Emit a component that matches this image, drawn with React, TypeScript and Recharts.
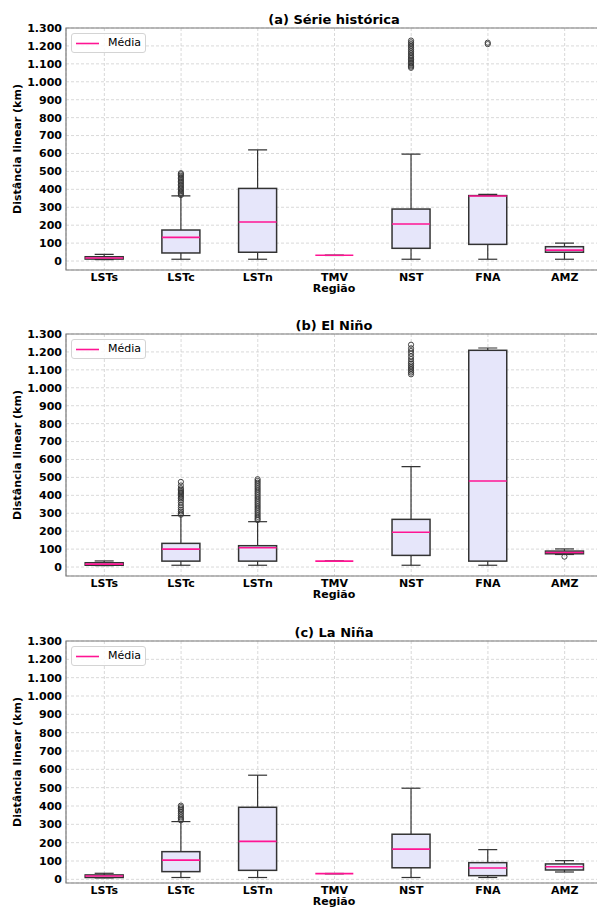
import React from 'react';
import { ComposedChart, Bar, XAxis, YAxis, CartesianGrid, ReferenceArea, Legend } from 'recharts';

const categories = ['LSTs', 'LSTc', 'LSTn', 'TMV', 'NST', 'FNA', 'AMZ'];
const yTicks = [0, 100, 200, 300, 400, 500, 600, 700, 800, 900, 1000, 1100, 1200, 1300];

// (a) Série histórica
const histWhiskerLow = [8, 10, 10, 31, 10, 10, 10];
const histQ1 = [11, 45, 49, 32, 71, 93, 49];
const histMedian = [17, 132, 218, 32, 207, 363, 61];
const histQ3 = [24, 173, 405, 32, 290, 365, 80];
const histWhiskerHigh = [37, 363, 620, 33, 596, 372, 100];
const histOutliers: number[][] = [
  [],
  [368, 375, 382, 390, 398, 405, 412, 420, 428, 436, 444, 452, 460, 468, 476, 484, 490],
  [],
  [],
  [1078, 1085, 1092, 1100, 1108, 1116, 1124, 1132, 1140, 1150, 1160, 1170, 1180, 1190, 1200, 1210, 1220, 1230],
  [1210, 1218],
  [],
];

// (b) El Niño
const ninoWhiskerLow = [8, 10, 10, 32, 10, 10, 70];
const ninoQ1 = [10, 33, 33, 33, 65, 33, 74];
const ninoMedian = [16, 100, 108, 33, 194, 480, 81];
const ninoQ3 = [24, 132, 119, 33, 266, 1209, 89];
const ninoWhiskerHigh = [34, 287, 253, 34, 560, 1222, 101];
const ninoOutliers: number[][] = [
  [],
  [292, 300, 310, 320, 332, 345, 360, 372, 382, 390, 398, 405, 412, 418, 425, 432, 440, 455, 475],
  [262, 270, 280, 290, 300, 310, 320, 330, 340, 350, 360, 370, 380, 390, 400, 410, 420, 430, 440, 450, 460, 470, 480, 490],
  [],
  [1075, 1085, 1095, 1105, 1115, 1125, 1135, 1145, 1160, 1175, 1190, 1205, 1220, 1240],
  [],
  [58],
];

// (c) La Niña
const ninaWhiskerLow = [8, 10, 10, 30, 10, 10, 40];
const ninaQ1 = [10, 42, 49, 31, 63, 20, 51];
const ninaMedian = [18, 105, 207, 31, 165, 62, 69];
const ninaQ3 = [24, 151, 393, 31, 246, 91, 84];
const ninaWhiskerHigh = [33, 315, 568, 32, 497, 162, 102];
const ninaOutliers: number[][] = [
  [],
  [322, 330, 338, 348, 358, 368, 378, 386, 394, 402],
  [],
  [],
  [],
  [],
  [],
];

const FONT = 'DejaVu Sans';
const BOX_FILL = '#E6E6FA';
const BOX_STROKE = '#333333';
const MEDIAN = '#FF1493';

function buildRows(wlo: number[], q1: number[], med: number[], q3: number[], whi: number[], out: number[][]) {
  return categories.map((name, i) => ({
    name,
    range: [wlo[i], whi[i]],
    whiskerLow: wlo[i],
    q1: q1[i],
    median: med[i],
    q3: q3[i],
    whiskerHigh: whi[i],
    outliers: out[i],
  }));
}

function BoxShape(props: any) {
  const { x, y, width, height, payload } = props;
  if (!payload || x == null || y == null || height == null) return null;
  const top = Math.min(y, y + height);
  const bot = Math.max(y, y + height);
  const lo = payload.whiskerLow;
  const hi = payload.whiskerHigh;
  const k = (bot - top) / (hi - lo);
  const py = (v: number) => bot - (v - lo) * k;
  const cx = x + width / 2;
  const capHalf = width / 4;
  const yQ1 = py(payload.q1);
  const yQ3 = py(payload.q3);
  const yMed = py(payload.median);
  const yLo = py(lo);
  const yHi = py(hi);
  return (
    <g>
      <line x1={cx} x2={cx} y1={yQ3} y2={yHi} stroke={BOX_STROKE} strokeWidth={1.2} />
      <line x1={cx} x2={cx} y1={yQ1} y2={yLo} stroke={BOX_STROKE} strokeWidth={1.2} />
      <line x1={cx - capHalf} x2={cx + capHalf} y1={yHi} y2={yHi} stroke={BOX_STROKE} strokeWidth={1.2} />
      <line x1={cx - capHalf} x2={cx + capHalf} y1={yLo} y2={yLo} stroke={BOX_STROKE} strokeWidth={1.2} />
      <rect x={x} y={yQ3} width={width} height={Math.max(0, yQ1 - yQ3)} fill={BOX_FILL} stroke={BOX_STROKE} strokeWidth={1.5} />
      <line x1={x} x2={x + width} y1={yMed} y2={yMed} stroke={MEDIAN} strokeWidth={1.6} />
      {payload.outliers.map((v: number, j: number) => (
        <circle key={j} cx={cx} cy={py(v)} r={2.6} fill="none" stroke={BOX_STROKE} strokeWidth={0.9} />
      ))}
    </g>
  );
}

const renderLegend = () => (
  <div
    style={{
      boxSizing: 'border-box',
      width: 75,
      height: 20,
      border: '1px solid #d4d4d4',
      borderRadius: 3,
      background: 'rgba(255,255,255,0.85)',
      position: 'relative',
      fontFamily: FONT,
      fontSize: 11,
      color: '#000',
    }}
  >
    <svg style={{ position: 'absolute', left: 4, top: 8 }} width={24} height={3}>
      <line x1={0} y1={1.5} x2={23} y2={1.5} stroke={MEDIAN} strokeWidth={1.6} />
    </svg>
    <span style={{ position: 'absolute', left: 36, top: 2, lineHeight: '13px', whiteSpace: 'nowrap' }}>Média</span>
  </div>
);

const fmt = (v: number) => String(v).replace(/\B(?=(\d{3})+(?!\d))/g, '.');

const tickStyle = { fontFamily: FONT, fontSize: 11, fontWeight: 'bold' as const, fill: '#000' };

function Panel(props: { top: number; title: string; rows: any[]; yMin: number }) {
  const { top, title, rows, yMin } = props;
  const plotTop = 28;
  const plotH = 242;
  return (
    <div style={{ position: 'absolute', left: 0, top, width: 603, height: 300 }}>
      <ComposedChart
        width={603}
        height={300}
        data={rows}
        margin={{ top: plotTop, right: 0, bottom: 0, left: 0 }}
        barCategoryGap="25%"
      >
        <CartesianGrid strokeDasharray="3 2" stroke="#cfcfcf" strokeWidth={0.8} />
        <XAxis
          dataKey="name"
          height={30}
          interval={0}
          tickSize={0}
          tickMargin={3}
          axisLine={false}
          tickLine={false}
          tick={tickStyle}
        />
        <YAxis
          type="number"
          width={66}
          domain={[yMin, 1300]}
          ticks={yTicks}
          interval={0}
          allowDataOverflow
          tickFormatter={fmt}
          tickSize={0}
          tickMargin={4}
          axisLine={false}
          tickLine={false}
          tick={tickStyle}
        />
        <ReferenceArea y1={yMin} y2={1300} fill="none" stroke="#7a7a7a" strokeWidth={1.2} ifOverflow="visible" />
        <Bar dataKey="range" shape={BoxShape} isAnimationActive={false} />
        <Legend
          layout="horizontal"
          verticalAlign="middle"
          align="center"
          content={renderLegend}
          wrapperStyle={{ left: 71, top: plotTop + 5, width: 75, height: 20 }}
        />
      </ComposedChart>
      <svg
        width={603}
        height={300}
        style={{ position: 'absolute', left: 0, top: 0, pointerEvents: 'none' }}
      >
        <text x={334} y={plotTop - 4} textAnchor="middle" fontFamily={FONT} fontSize={13} fontWeight="bold" fill="#000">
          {title}
        </text>
        <text
          x={21}
          y={plotTop + plotH / 2}
          textAnchor="middle"
          fontFamily={FONT}
          fontSize={11}
          fontWeight="bold"
          fill="#000"
          transform={`rotate(-90, 21, ${plotTop + plotH / 2})`}
        >
          Distância linear (km)
        </text>
        <text x={334} y={plotTop + plotH + 22} textAnchor="middle" fontFamily={FONT} fontSize={11} fontWeight="bold" fill="#000">
          Região
        </text>
      </svg>
    </div>
  );
}

export default function App() {
  const histRows = buildRows(histWhiskerLow, histQ1, histMedian, histQ3, histWhiskerHigh, histOutliers);
  const ninoRows = buildRows(ninoWhiskerLow, ninoQ1, ninoMedian, ninoQ3, ninoWhiskerHigh, ninoOutliers);
  const ninaRows = buildRows(ninaWhiskerLow, ninaQ1, ninaMedian, ninaQ3, ninaWhiskerHigh, ninaOutliers);
  return (
    <div style={{ position: 'absolute', left: 0, top: 0, width: 597, height: 907, overflow: 'hidden', background: '#fff' }}>
      <Panel top={0} title="(a) Série histórica" rows={histRows} yMin={-50} />
      <Panel top={306} title="(b) El Niño" rows={ninoRows} yMin={-50} />
      <Panel top={613} title="(c) La Niña" rows={ninaRows} yMin={-20} />
    </div>
  );
}
